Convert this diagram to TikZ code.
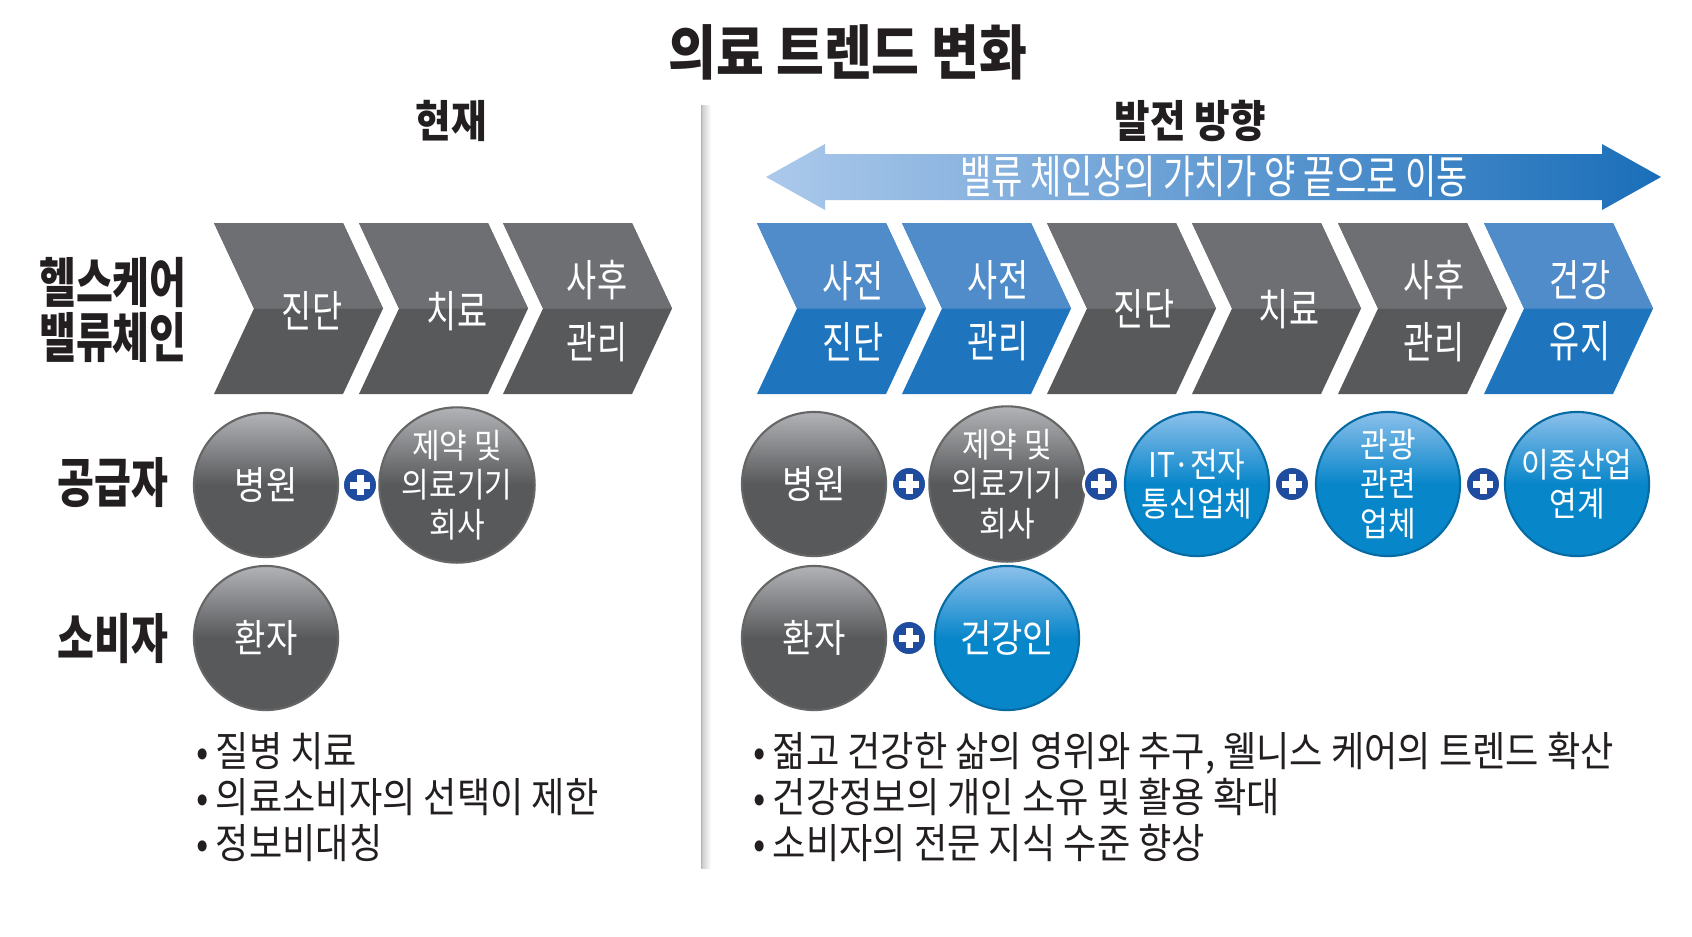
\documentclass[tikz,border=0pt]{standalone}
\usepackage{fontspec}
\setmainfont{Noto Sans CJK KR}
\newfontfamily\midfont{Noto Sans CJK KR}[FakeStretch=0.75]
\newfontfamily\widefont{Noto Sans CJK KR}[FakeStretch=0.88]
\usetikzlibrary{positioning,calc}

\definecolor{inkblack}{RGB}{35,31,32}
\definecolor{chevgrayT}{RGB}{110,111,114}
\definecolor{chevgrayB}{RGB}{88,89,91}
\definecolor{chevblueT}{RGB}{80,139,202}
\definecolor{chevblueB}{RGB}{30,117,189}
\definecolor{arrowL}{RGB}{172,201,235}
\definecolor{arrowM}{RGB}{88,145,208}
\definecolor{arrowR}{RGB}{26,110,185}
\definecolor{ballgrayT}{RGB}{178,179,182}
\definecolor{ballgrayB}{RGB}{88,89,91}
\definecolor{ballblueT}{RGB}{140,192,235}
\definecolor{ballblueB}{RGB}{8,134,202}
\definecolor{plusblue}{RGB}{31,76,158}

% one chevron of the value chain: left x, top colour, bottom colour
\newcommand\chevshape[3]{%
  \fill[#3] (#1,223) -- ++(129,0) -- ++(40,85.5) -- ++(-40,85.5) -- ++(-129,0) -- ++(40,-85.5) -- cycle;
  \fill[#2] (#1,223) -- ++(129,0) -- ++(40,85.5) -- ++(-129,0) -- cycle;}

\tikzset{
  titletxt/.style={font=\widefont\bfseries\fontsize{16.8}{18}\selectfont, text=inkblack},
  headtxt/.style={font=\widefont\bfseries\fontsize{12.5}{14}\selectfont, text=inkblack},
  rowtxt/.style={font=\midfont\bfseries\fontsize{15.2}{15.6}\selectfont, text=inkblack, align=center},
  chevtxt/.style={font=\midfont\fontsize{12.4}{17.4}\selectfont, text=white, align=center},
  arrtxt/.style={font=\midfont\fontsize{12.9}{14}\selectfont, text=white},
  ball/.style={circle, minimum size=1.44cm, inner sep=0pt, line width=0.6pt, text=white, align=center,
    font=\widefont\fontsize{11}{12}\selectfont},
  grayball/.style={ball, draw=black!60, top color=ballgrayT, bottom color=ballgrayB, middle color=ballgrayB},
  blueball/.style={ball, draw=ballblueB!80!black, top color=ballblueT, bottom color=ballblueB, middle color=ballblueB},
  smalltxt/.style={font=\widefont\fontsize{9.7}{11.2}\selectfont},
  plusmark/.style={circle, fill=plusblue, draw=white, line width=0.8pt, minimum size=0.35cm, inner sep=0pt,
    path picture={\draw[white, line width=0.07cm]
      (path picture bounding box.center) ++(-10,0) -- ++(20,0)
      (path picture bounding box.center) ++(0,-10) -- ++(0,20);}},
  bullets/.style={font=\widefont\fontsize{11.7}{13.1}\selectfont, text=inkblack, align=left, anchor=west, inner sep=0pt},
}

\begin{document}
\begin{tikzpicture}[x=0.01cm, y=-0.01cm]
\useasboundingbox[fill=white] (0,0) rectangle (1692,936);

% title and headings
\node[titletxt] (title) at (848,52) {의료 트렌드 변화};
\node[headtxt] (nowhead) at (451,121) {현재};
\node[headtxt] (futhead) at (1190,121) {발전 방향};

% divider
\shade[left color=black!22, right color=white] (701,105) rectangle (711,868);
\draw[black!30, line width=0.3pt] (701.5,105) -- (701.5,868);

% row labels
\node[rowtxt] (rowvc) at (113,310) {헬스케어\\밸류체인};
\node[rowtxt] (rowsup) at (113,483) {공급자};
\node[rowtxt] (rowcon) at (113,638) {소비자};

% current value chain
\foreach \x in {214,359,503} \chevshape{\x}{chevgrayT}{chevgrayB};
\node[chevtxt] (nc1) at (312,311) {진단};
\node[chevtxt] (nc2) at (457,311) {치료};
\node[chevtxt] (nc3) at (597,311) {사후\\관리};

% future value chain
\shade[left color=arrowL, middle color=arrowM, right color=arrowR]
  (766,177) -- (825,144) -- (825,154) -- (1602,154) -- (1602,144) -- (1661,177)
  -- (1602,210) -- (1602,200) -- (825,200) -- (825,210) -- cycle;
\node[arrtxt] (shift) at (1214,177) {밸류 체인상의 가치가 양 끝으로 이동};
\foreach \x/\ct/\cb in {757/chevblueT/chevblueB, 902/chevblueT/chevblueB, 1047/chevgrayT/chevgrayB,
    1192/chevgrayT/chevgrayB, 1338/chevgrayT/chevgrayB, 1484/chevblueT/chevblueB}
  \chevshape{\x}{\ct}{\cb};
\node[chevtxt] (fc1) at (853,311) {사전\\진단};
\node[chevtxt] (fc2) at (998,311) {사전\\관리};
\node[chevtxt] (fc3) at (1144,309) {진단};
\node[chevtxt] (fc4) at (1289,309) {치료};
\node[chevtxt] (fc5) at (1434,311) {사후\\관리};
\node[chevtxt] (fc6) at (1580,311) {건강\\유지};

% suppliers and consumers, now
\node[grayball] (nhosp) at (266,485) {병원};
\node[plusmark] (np1) at (360,485) {};
\node[grayball, smalltxt] (npharm) at (457,485) {제약 및\\의료기기\\회사};
\node[grayball] (npat) at (266,638) {환자};

% suppliers and consumers, later
\node[grayball] (fhosp) at (814,484) {병원};
\node[plusmark] (fp1) at (909,484) {};
\node[grayball, smalltxt] (fpharm) at (1007,484) {제약 및\\의료기기\\회사};
\node[plusmark] (fp2) at (1101,484) {};
\node[blueball, smalltxt] (fit) at (1197,484) {IT·전자\\통신업체};
\node[plusmark] (fp3) at (1292,484) {};
\node[blueball, smalltxt] (ftour) at (1388,484) {관광\\관련\\업체};
\node[plusmark] (fp4) at (1483,484) {};
\node[blueball, smalltxt] (fmix) at (1577,484) {이종산업\\연계};
\node[grayball] (fpat) at (814,638) {환자};
\node[plusmark] (fp5) at (909,638) {};
\node[blueball] (fwell) at (1007,638) {건강인};

% notes
\node[bullets] (nnotes) at (196,797) {•\,질병 치료\\•\,의료소비자의 선택이 제한\\•\,정보비대칭};
\node[bullets] (fnotes) at (753,797) {•\,젊고 건강한 삶의 영위와 추구, 웰니스 케어의 트렌드 확산\\•\,건강정보의 개인 소유 및 활용 확대\\•\,소비자의 전문 지식 수준 향상};
\end{tikzpicture}
\end{document}
